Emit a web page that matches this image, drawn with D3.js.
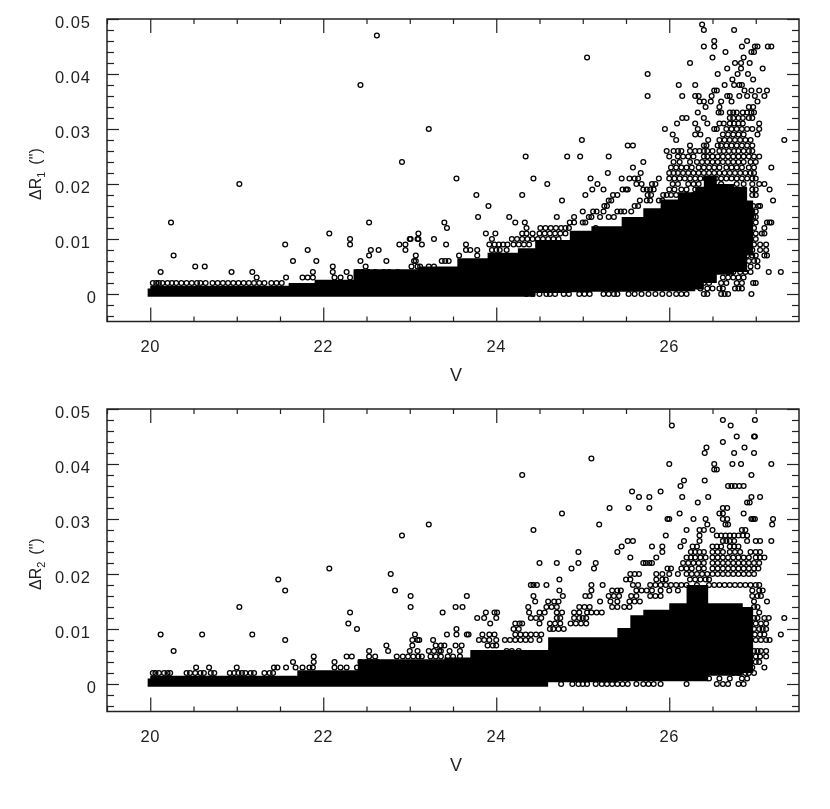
<!DOCTYPE html>
<html>
<head>
<meta charset="utf-8">
<script src="https://cdn.jsdelivr.net/npm/d3@7"></script>
<style>
body{margin:0;background:#fff;}
svg{display:block;filter:blur(0.3px);}
text{font-family:"Liberation Sans",sans-serif;fill:#222;}
</style>
</head>
<body>
<svg id="chart" width="830" height="809"></svg>
<script>
// tick labels
var xMajor=[20,22,24,26];
var xMinor=[19.5,20.5,21,21.5,22.5,23,23.5,24.5,25,25.5,26.5,27];
var yMajor=[0,0.01,0.02,0.03,0.04,0.05];
var yMinor=[-0.004,-0.002,0.002,0.004,0.006,0.008,0.012,0.014,0.016,0.018,0.022,0.024,0.026,0.028,0.032,0.034,0.036,0.038,0.042,0.044,0.046,0.048];

// saturated black area of each panel, read column by column
var bandV1  =[19.97,20.0,21.6,21.9,22.35,23.1,23.55,23.9,24.25,24.45,24.85,25.1,25.45,25.7,25.9,26.1,26.3,26.4,26.55,26.75,26.9,26.97];
var bandTop1=[.0010,.0015,.0020,.0026,.0045,.0050,.0065,.0075,.0083,.0098,.0115,.0123,.0140,.0156,.0172,.0185,.0195,.0215,.0200,.0195,.0170,.0120];
var bandBot1=[-.0005,-.0005,-.0005,-.0005,-.0005,-.0005,-.0005,-.0005,-.0005,.0002,.0003,.0004,.0004,.0005,.0005,.0005,.0008,.0020,.0035,.0040,.0070,.0100];

var bandV2  =[19.97,20.0,21.7,22.4,23.4,23.7,24.3,24.6,25.4,25.55,25.7,26.0,26.2,26.45,26.85,26.97];
var bandTop2=[.0010,.0015,.0025,.0045,.0048,.0062,.0062,.0085,.0102,.0125,.0135,.0147,.0180,.0147,.0140,.0100];
var bandBot2=[-.0005,-.0005,-.0005,-.0005,-.0005,-.0005,-.0005,.0003,.0005,.0005,.0005,.0005,.0005,.0015,.0020,.0050];

// separate markers, one row for each quantised value of dR
var rows1=[
[.049,[26.38]],[.048,[26.40,26.75]],[.047,[22.62]],[.046,[26.52,26.90]],
[.045,[26.40,26.52,26.84,26.99,27.02,27.14,27.18]],[.044,[26.65,26.95,26.98]],
[.043,[25.05,26.50,26.86]],[.042,[26.24,26.76,26.83,26.93]],[.041,[26.67,26.83,27.08]],
[.040,[25.75,26.56,26.79,26.91]],[.039,[26.73,26.97]],
[.038,[22.43,26.11,26.30,26.64,26.75,26.81,26.84]],[.037,[26.52,26.55,26.87,26.95,27.04,27.13]],
[.036,[25.75,26.15,26.30,26.34,26.49,26.67,26.70,26.81,26.90,26.99,27.10]],
[.035,[26.35,26.40,26.48,26.60,26.72,27.02]],[.034,[26.42,26.58,26.92,26.97]],
[.033,[26.33,26.57,26.60,26.70,26.74,26.78,26.85,26.90,26.95,26.98]],
[.032,[26.15,26.20,26.40,26.70,26.74,26.80,26.85,26.92,26.96]],
[.031,[26.09,26.30,26.44,26.58,26.63,26.70,26.75,26.80,26.85,27.04]],
[.030,[23.22,25.95,26.33,26.52,26.55,26.66,26.72,26.78,26.84,26.90,26.96,27.04]],
[.029,[26.04,26.30,26.36,26.62,26.68,26.74,26.80,26.86,27.02]],
[.028,[24.99,26.08,26.45,26.58,26.64,26.70,26.76,26.82,26.88,26.94,27.33]],
[.027,[25.52,25.58,26.24,26.40,26.43,26.56,26.60,26.66,26.72,26.78,26.84,26.90,26.96]],
[.026,[25.97,26.05,26.10,26.14,26.24,26.30,26.35,26.40,26.44,26.50,26.58,26.63,26.69,26.75,26.80,26.86,26.92,26.96]],
[.025,[24.34,24.82,24.97,25.30,26.00,26.10,26.16,26.22,26.28,26.40,26.44,26.50,26.56,26.62,26.68,26.74,26.80,26.86,26.92,26.98,27.04]],
[.024,[22.91,25.70,26.05,26.12,26.24,26.32,26.38,26.44,26.50,26.56,26.62,26.68,26.74,26.80,26.86,26.94,27.00]],
[.023,[25.58,26.02,26.08,26.14,26.20,26.26,26.34,26.40,26.46,26.52,26.58,26.66,26.72,26.78,26.84,26.92,26.98,27.18]],
[.022,[25.29,25.67,26.00,26.05,26.10,26.16,26.22,26.28,26.34,26.40,26.46,26.52,26.58,26.64,26.70,26.76,26.82,26.88,26.94,26.98]],
[.021,[23.54,24.43,25.09,25.45,25.54,25.60,25.64,25.88,26.00,26.06,26.12,26.18,26.24,26.30,26.36,26.42,26.48,26.54,26.60,26.66,26.72,26.78,26.84,26.90,26.96,27.00]],
[.020,[21.03,24.59,25.17,25.62,25.68,25.80,25.84,26.04,26.10,26.22,26.28,26.34,26.46,26.60,26.78,26.86,26.96,27.04,27.10]],
[.019,[25.11,25.24,25.46,25.50,25.52,25.70,25.74,25.78,25.82,26.00,26.06,26.14,26.20,26.30,26.70,26.96,27.00,27.16]],
[.018,[23.77,24.30,25.03,25.35,25.40,25.75,25.79,25.93,25.97,26.02,26.08,26.20,26.28,26.96,27.00]],
[.017,[24.76,25.30,25.33,25.66,25.74,25.78,25.88,25.92,27.20]],
[.016,[23.91,25.25,25.28,25.60,25.64,26.97,27.03,27.05]],
[.015,[25.00,25.12,25.16,25.24,25.40,25.44,25.48,25.56,26.96,27.00]],
[.014,[23.79,24.15,24.70,24.90,25.07,25.10,25.20,25.30,25.36,26.97,27.00]],
[.013,[20.24,22.53,23.40,24.22,24.33,24.85,24.90,25.00,25.03,27.00,27.13,27.16,27.18]],
[.012,[23.43,24.35,24.51,24.57,24.63,24.69,24.75,24.80,24.84,25.15,26.98,27.10]],
[.011,[22.07,23.10,23.88,23.99,24.30,24.35,24.42,24.50,24.56,24.62,24.68,24.74,24.80,27.00,27.07,27.10]],
[.010,[22.31,23.01,23.10,23.00,23.09,23.28,23.95,24.18,24.24,24.30,24.36,24.42,24.48,24.54,24.60,24.66,24.72,27.00]],
[.009,[21.56,22.31,22.88,22.95,23.14,23.42,23.65,23.92,23.98,24.03,24.08,24.13,24.20,24.26,24.32,24.38,26.98,27.05,27.12]],
[.008,[21.82,22.55,22.64,22.95,23.65,23.70,23.78,23.95,24.00,24.04,24.12,26.96,27.05,27.12]],
[.007,[20.27,22.53,23.07,23.57,23.78,26.90,26.96,27.00,27.10,27.13]],
[.006,[21.65,21.92,22.43,22.73,23.05,23.07,23.37,23.41,23.45,26.80,26.86,26.92,26.98,27.02]],
[.005,[20.52,20.63,22.11,22.49,23.02,23.09,23.12,23.22,23.28,26.72,26.80,26.86,26.94,27.02]],
[.004,[20.12,20.94,21.18,21.88,22.11,22.27,22.40,22.45,22.52,22.60,22.70,22.76,22.86,26.68,26.74,26.82,26.88,26.94,27.15,27.29]],
[.003,[21.23,21.57,21.76,21.82,21.88,22.13,22.20,22.31,22.43,22.53,22.62,26.62,26.68,26.74,26.80,26.86]],
[.002,[20.03,20.07,20.10,20.14,20.20,20.25,20.30,20.36,20.42,20.48,20.54,20.58,20.64,20.72,20.78,20.84,20.90,20.96,21.02,21.08,21.14,21.20,21.26,21.32,21.40,21.46,21.52,26.40,26.46,26.60,26.66,26.78,26.84,26.97,27.00]],
[.001,[26.36,26.44,26.50,26.58,26.62,26.76,26.80,26.84]],
[0,[24.35,24.42,24.50,24.58,24.62,24.68,24.78,24.84,24.96,25.02,25.08,25.24,25.30,25.36,25.40,25.53,25.60,25.68,25.76,25.84,25.92,26.00,26.08,26.14,26.20,26.40,26.44,26.60,26.64,26.68,26.95]]
];

var rows2=[
[.048,[26.62,26.99]],[.047,[26.03,26.71]],[.045,[26.78,26.98,26.99]],[.044,[26.62]],
[.043,[26.43,26.87]],[.042,[26.41,26.75,26.98]],[.041,[25.10]],
[.040,[26.00,26.52,26.73,26.83,27.18]],[.039,[26.52,26.55]],[.038,[24.30,26.95]],
[.037,[26.17,26.41]],[.036,[26.13,26.68,26.72,26.76,26.81,26.86]],[.035,[25.57,25.90]],
[.034,[25.65,25.77,26.15,26.45,26.95,27.05]],[.033,[26.33,26.90,26.93]],
[.032,[25.31,25.53,25.77,26.62,26.67]],[.031,[24.76,26.12,26.58,26.62,26.86]],
[.030,[25.98,26.00,26.28,26.42,26.62,26.67,26.95,26.97,26.99,27.20]],
[.029,[23.22,25.19,26.44,26.65,26.68,27.19]],[.028,[24.43,26.20,26.35,26.40,26.50,26.84,26.88]],
[.027,[22.91,25.96,26.35,26.55,26.60,26.65,26.70,26.75,26.80,26.85,26.90]],
[.026,[25.52,25.58,26.17,26.35,26.62,26.66,26.70,26.75,26.90,27.00,27.05,27.18]],
[.025,[25.45,25.80,25.92,26.13,26.27,26.32,26.50,26.55,26.60,26.70,26.75,26.80]],
[.024,[24.95,25.40,25.92,26.25,26.30,26.35,26.40,26.50,26.56,26.62,26.70,26.76,26.82,26.94,27.00,27.05]],
[.023,[25.55,25.85,26.20,26.25,26.30,26.36,26.42,26.50,26.56,26.62,26.68,26.74,26.80,26.86,26.92,27.00,27.05,27.10]],
[.022,[24.50,24.70,24.95,25.15,25.70,25.73,25.77,25.80,26.16,26.22,26.28,26.34,26.40,26.50,26.56,26.62,26.68,26.74,26.80,26.86,26.92,26.98,27.04]],
[.021,[22.07,24.87,25.13,25.98,26.02,26.14,26.20,26.26,26.34,26.40,26.50,26.56,26.62,26.68,26.74,26.80,26.86,26.92,26.98,27.03]],
[.020,[22.78,25.55,25.60,25.65,25.85,25.92,26.00,26.10,26.20,26.26,26.32,26.38,26.44,26.50,26.56,26.62,26.68,26.74,26.80,26.86,26.92,26.98]],
[.019,[21.48,24.73,25.50,25.55,25.85,25.92,25.96,26.24,26.30,26.36,26.42,26.46]],
[.018,[24.40,24.43,24.47,24.58,25.10,25.23,25.58,25.64,25.78,25.84,25.90,25.96,26.02,26.08,26.14,26.20,26.32,26.46,26.52,26.58,26.64,26.70,26.76,26.82,26.88,26.94,27.00,27.04]],
[.017,[21.56,22.83,24.73,25.10,25.34,25.40,25.44,25.62,25.68,25.74,25.80,25.90,26.00,26.10,26.96,27.04,27.08]],
[.016,[23.01,23.66,24.43,24.77,25.03,25.08,25.30,25.36,25.42,25.56,25.62,25.78,25.84,25.90,26.96,27.02,27.06]],
[.015,[24.45,24.60,24.67,24.72,25.20,25.32,25.40,25.54,25.60,25.66,26.98,27.13]],
[.014,[21.03,23.01,23.53,23.61,24.37,24.58,24.64,24.70,24.96,25.02,25.08,25.34,25.40,25.48,25.54,26.98,27.02]],
[.013,[22.31,23.38,23.88,23.98,24.01,24.38,24.50,24.56,24.70,24.76,24.90,24.96,25.05,25.10,25.16,25.22,27.04]],
[.012,[23.78,23.86,24.00,24.40,24.46,24.52,24.70,24.74,24.90,24.96,25.00,25.04,26.98,27.02,27.10,27.15,27.33]],
[.011,[22.29,23.93,24.22,24.27,24.30,24.50,24.62,24.68,24.74,24.86,24.92,24.98,25.04,27.00,27.06,27.12]],
[.010,[22.39,23.54,24.20,24.26,24.62,24.66,24.72,24.78,26.98,27.04,27.08,27.12]],
[.009,[20.12,20.60,21.18,23.06,23.43,23.54,23.66,23.68,23.84,23.92,23.98,24.22,24.28,24.34,24.40,24.46,24.52,26.99,27.05,27.10,27.29]],
[.008,[21.56,23.03,23.09,23.11,23.27,23.80,23.86,23.92,24.00,24.10,24.16,24.22,24.28,24.34,24.40,24.50,27.00,27.06,27.12,27.16]],
[.007,[22.73,23.03,23.30,23.36,23.40,23.53,23.60,23.90,23.96,24.00]],
[.006,[20.27,22.53,22.75,23.09,23.00,23.22,23.28,23.34,23.36,23.46,23.58,24.12,24.18,24.26,26.98,27.02,27.06,27.12]],
[.005,[21.89,22.27,22.33,22.53,22.60,22.85,22.92,22.98,23.04,23.10,23.14,23.24,23.30,23.36,23.44,23.50,23.58,27.00,27.05,27.12]],
[.004,[21.65,21.89,22.13,22.43,22.50,22.56,22.62,26.94,27.00,27.04]],
[.003,[20.53,20.68,21.00,21.43,21.47,21.57,21.68,21.76,21.84,21.88,22.13,22.20,22.27,22.39,22.52,22.58,22.64,26.92,26.96,27.10]],
[.002,[20.03,20.06,20.10,20.16,20.20,20.23,20.42,20.46,20.52,20.58,20.62,20.70,20.74,20.92,20.97,21.02,21.06,21.10,21.16,21.20,21.32,21.38,21.42,26.74,26.80,26.88,26.92,26.98]],
[.001,[26.46,26.58,26.70,26.84,26.90]],
[0,[24.75,24.88,24.95,25.00,25.05,25.15,25.22,25.28,25.34,25.40,25.46,25.52,25.62,25.70,25.76,25.82,25.90,26.20,26.55,26.62,26.68,26.80,26.86]]
];

var panels=[
  {top:19,label:"1",rows:rows1,bandV:bandV1,bandTop:bandTop1,bandBot:bandBot1},
  {top:409,label:"2",rows:rows2,bandV:bandV2,bandTop:bandTop2,bandBot:bandBot2}
];

var left=107,right=799,panelHeight=302.5;
var svg=d3.select("#chart");

var x=d3.scaleLinear().domain([19.5,27.5]).range([left,right]);

function drawPanel(p){
  var y=d3.scaleLinear().domain([-0.005,0.05]).range([p.top+panelHeight,p.top]);
  var g=svg.append("g");

  // the saturated area
  var area=d3.area()
    .x(function(d){return x(d.V);})
    .y0(function(d){return y(d.bot);})
    .y1(function(d){return y(d.top);})
    .curve(d3.curveStepAfter);
  var band=p.bandV.map(function(v,i){return {V:v,top:p.bandTop[i],bot:p.bandBot[i]};});
  g.append("path").attr("d",area(band)).attr("fill","#000");

  // markers
  var pts=[];
  p.rows.forEach(function(r){
    r[1].forEach(function(v){pts.push({V:v,dR:r[0]});});
  });
  g.selectAll("circle.pt").data(pts).enter().append("circle")
    .attr("class","pt")
    .attr("cx",function(d){return x(d.V);})
    .attr("cy",function(d){return y(d.dR);})
    .attr("r",2.4)
    .attr("fill","none")
    .attr("stroke","#000")
    .attr("stroke-width",1.3);

  // ticks on all four sides
  var bottom=p.top+panelHeight;
  function ticks(axis,pos,values,size){
    var a=g.append("g").attr("transform",pos).call(axis.tickValues(values).tickSize(size).tickFormat(""));
    a.select(".domain").remove();
    a.selectAll("line").attr("stroke","#222").attr("stroke-width",1.2);
    return a;
  }
  ticks(d3.axisTop(x),"translate(0,"+bottom+")",xMinor,5);
  ticks(d3.axisTop(x),"translate(0,"+bottom+")",xMajor,14);
  ticks(d3.axisBottom(x),"translate(0,"+p.top+")",xMinor,5);
  ticks(d3.axisBottom(x),"translate(0,"+p.top+")",xMajor,14);
  ticks(d3.axisRight(y),"translate("+left+",0)",yMinor,7);
  ticks(d3.axisRight(y),"translate("+left+",0)",yMajor,12);
  ticks(d3.axisLeft(y),"translate("+right+",0)",yMinor,7);
  ticks(d3.axisLeft(y),"translate("+right+",0)",yMajor,12);

  g.append("rect").attr("x",left).attr("y",p.top)
    .attr("width",right-left).attr("height",panelHeight)
    .attr("fill","none").attr("stroke","#222").attr("stroke-width",1.5);

  // tick labels
  g.selectAll("text.xl").data(xMajor).enter().append("text")
    .attr("class","xl")
    .attr("x",function(d){return x(d);})
    .attr("y",bottom+30)
    .attr("text-anchor","middle")
    .style("font-size","16.5px")
    .style("letter-spacing","0.6px")
    .text(function(d){return d;});
  g.selectAll("text.yl").data(yMajor).enter().append("text")
    .attr("class","yl")
    .attr("x",function(d){return d==0?97:91;})
    .attr("y",function(d){return y(d)+9;})
    .attr("text-anchor","end")
    .style("font-size","16.5px")
    .style("letter-spacing","1px")
    .text(function(d){return d==0?"0":d.toFixed(2);});

  // axis titles
  g.append("text")
    .attr("x",456).attr("y",bottom+59)
    .attr("text-anchor","middle")
    .style("font-size","18px")
    .text("V");
  var yTitle=g.append("text")
    .attr("transform","translate(41,"+(p.top+181)+") rotate(-90)")
    .style("font-size","16px");
  yTitle.append("tspan").text("ΔR");
  yTitle.append("tspan").attr("dy",4).style("font-size","11px").text(p.label);
  yTitle.append("tspan").attr("dy",-4).attr("dx",7).text("(\")");
}

panels.forEach(drawPanel);
</script>
</body>
</html>
